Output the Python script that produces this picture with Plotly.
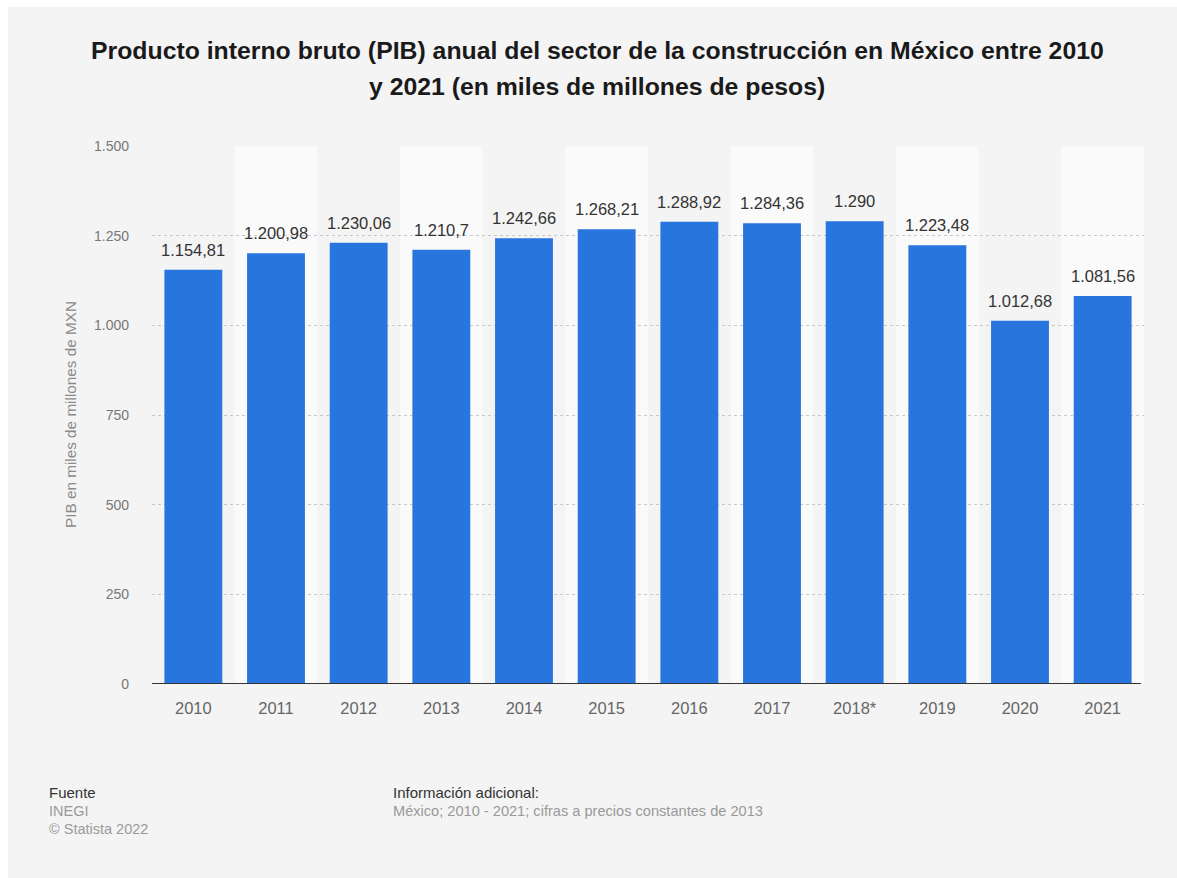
import plotly.graph_objects as go

years = ["2010", "2011", "2012", "2013", "2014", "2015", "2016", "2017", "2018*", "2019", "2020", "2021"]
pib = [1154.81, 1200.98, 1230.06, 1210.7, 1242.66, 1268.21, 1288.92, 1284.36, 1290, 1223.48, 1012.68, 1081.56]
labels = ["1.154,81", "1.200,98", "1.230,06", "1.210,7", "1.242,66", "1.268,21", "1.288,92", "1.284,36", "1.290", "1.223,48", "1.012,68", "1.081,56"]
y_ticks = [0, 250, 500, 750, 1000, 1250, 1500]
y_tick_labels = ["0", "250", "500", "750", "1.000", "1.250", "1.500"]

W, H = 1177, 878
L, R, T, B = 152, 33, 146, 194
PW, PH = W - L - R, H - T - B

def px(xp):
    return (xp - L) / PW

def py(yp):
    return (H - B - yp) / PH

FONT = "Liberation Sans, Arial, sans-serif"
idx = list(range(len(years)))

fig = go.Figure()
fig.add_trace(go.Bar(
    x=idx, y=pib, marker=dict(color="#2775dd", line=dict(width=0)),
    width=0.7, hovertext=years, hoverinfo="text+y",
))

shapes = []
for i in idx:
    if i % 2 == 1:
        shapes.append(dict(type="rect", xref="x", yref="y", x0=i - 0.5, x1=i + 0.5,
                           y0=0, y1=y_ticks[-1], fillcolor="#fafafa", line=dict(width=0), layer="below"))
# white strips at top and left edge
shapes.append(dict(type="rect", xref="paper", yref="paper", x0=px(0), x1=px(8), y0=py(H), y1=py(0),
                   fillcolor="white", line=dict(width=0), layer="below"))
shapes.append(dict(type="rect", xref="paper", yref="paper", x0=px(0), x1=px(W), y0=py(7), y1=py(0),
                   fillcolor="white", line=dict(width=0), layer="below"))
# axis baseline
shapes.append(dict(type="line", xref="paper", yref="y", x0=0, x1=px(1141), y0=0, y1=0,
                   line=dict(color="#333333", width=2)))

annotations = []
for i, v, lab in zip(idx, pib, labels):
    annotations.append(dict(x=i, y=v, xref="x", yref="y", text=lab, showarrow=False,
                            yanchor="bottom", yshift=9, font=dict(family=FONT, size=16.5, color="#333333")))

annotations += [
    dict(xref="paper", yref="paper", x=px(597), y=py(50), text="<b>Producto interno bruto (PIB) anual del sector de la construcción en México entre 2010</b>",
         showarrow=False, xanchor="center", yanchor="middle", font=dict(family=FONT, size=24.8, color="#1a1a1a")),
    dict(xref="paper", yref="paper", x=px(597), y=py(86), text="<b>y 2021 (en miles de millones de pesos)</b>",
         showarrow=False, xanchor="center", yanchor="middle", font=dict(family=FONT, size=24.8, color="#1a1a1a")),
    dict(xref="paper", yref="paper", x=px(70), y=py(415), text="PIB en miles de millones de MXN", textangle=-90,
         showarrow=False, xanchor="center", yanchor="middle", font=dict(family=FONT, size=15.3, color="#8a8a8a")),
    dict(xref="paper", yref="paper", x=px(47), y=py(792), text="Fuente", showarrow=False,
         xanchor="left", yanchor="middle", font=dict(family=FONT, size=15, color="#333333")),
    dict(xref="paper", yref="paper", x=px(47), y=py(811), text="INEGI", showarrow=False,
         xanchor="left", yanchor="middle", font=dict(family=FONT, size=14.5, color="#999999")),
    dict(xref="paper", yref="paper", x=px(47), y=py(829), text="© Statista 2022", showarrow=False,
         xanchor="left", yanchor="middle", font=dict(family=FONT, size=14.5, color="#999999")),
    dict(xref="paper", yref="paper", x=px(391), y=py(792), text="Información adicional:", showarrow=False,
         xanchor="left", yanchor="middle", font=dict(family=FONT, size=15, color="#333333")),
    dict(xref="paper", yref="paper", x=px(391), y=py(811), text="México; 2010 - 2021; cifras a precios constantes de 2013", showarrow=False,
         xanchor="left", yanchor="middle", font=dict(family=FONT, size=14.6, color="#999999")),
]

fig.update_layout(
    width=W, height=H,
    margin=dict(l=L, r=R, t=T, b=B, autoexpand=False),
    paper_bgcolor="#f4f4f4", plot_bgcolor="#f4f4f4",
    showlegend=False,
    shapes=shapes, annotations=annotations,
    font=dict(family=FONT),
)
fig.update_xaxes(
    range=[-0.5, len(years) - 0.5], tickmode="array", tickvals=idx, ticktext=years,
    showgrid=False, showline=False, zeroline=False,
    ticks="", tickfont=dict(family=FONT, size=16.5, color="#666666"), ticklabelstandoff=12,
    fixedrange=True,
)
fig.update_yaxes(
    range=[0, 1500], tickvals=y_ticks, ticktext=y_tick_labels,
    showgrid=True, gridcolor="#c8c8c8", griddash="dot", gridwidth=1,
    zeroline=False, showline=False, ticks="",
    tickfont=dict(family=FONT, size=14, color="#777777"), ticklabelstandoff=22,
    fixedrange=True,
)

fig.write_html("out.html")
